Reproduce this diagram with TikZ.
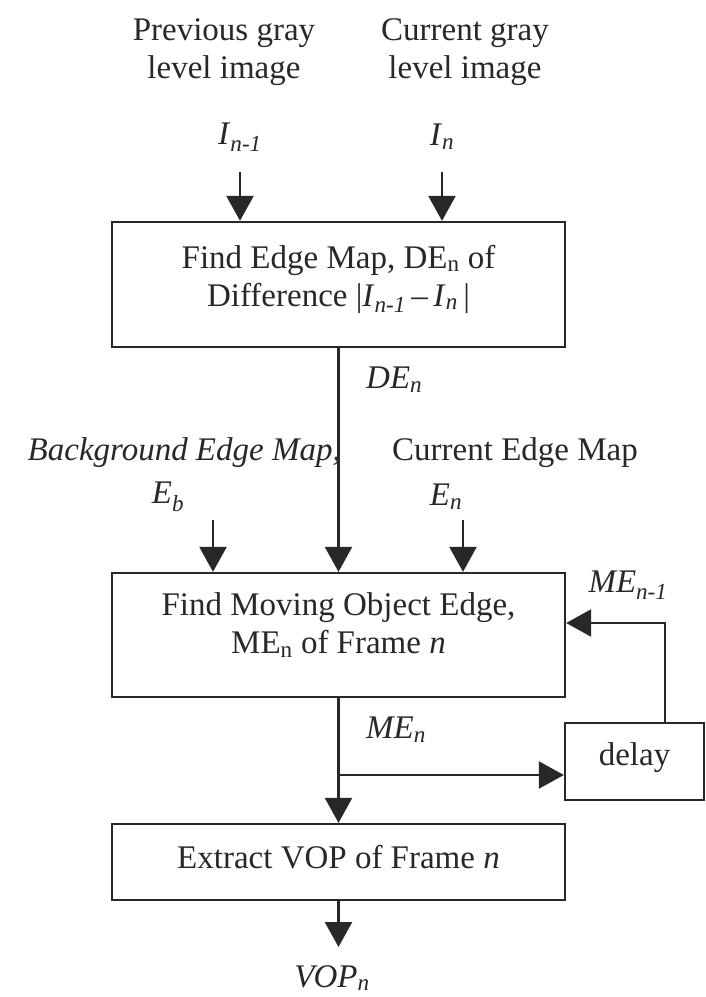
\documentclass[tikz,border=0pt]{standalone}
\usepackage{fontspec}
\setmainfont{Liberation Serif}
\usetikzlibrary{arrows.meta}
\definecolor{ink}{RGB}{40,40,40}
\begin{document}
\begin{tikzpicture}[x=1pt,y=-1pt,
  every node/.style={font=\fontsize{33}{38}\selectfont, inner sep=0pt, text=ink},
  blockbox/.style={draw=ink, line width=2.3pt},
  flow/.style={draw=ink, line width=2.3pt, -{Triangle[length=25pt,width=27pt]}},
  lbl/.style={align=center},
]
\fill[white] (0,0) rectangle (706,997);
\useasboundingbox (0,0) rectangle (706,997);

% processing blocks
\node[blockbox, minimum width=453pt, minimum height=125pt] (edge) at (338.5,284.5) {};
\node[blockbox, minimum width=453pt, minimum height=124pt] (moving) at (338.5,635) {};
\node[blockbox, minimum width=453pt, minimum height=76pt] (extract) at (338.5,862) {};
\node[blockbox, minimum width=139pt, minimum height=77pt] (delay) at (634.5,761.5) {};

% block captions
\node[lbl] (edgetxt) at (338.5,279)
  {Find Edge Map, DE\textsubscript{n} of\\Difference \textbar\textit{I}\textsubscript{\textit{n-1}}\,--\,\textit{I}\textsubscript{\textit{n}}\,\textbar};
\node[lbl] (movingtxt) at (338.5,625) {Find Moving Object Edge,\\ME\textsubscript{n} of Frame \textit{n}};
\node (extracttxt) at (338.5,857) {Extract VOP of Frame \textit{n}};
\node (delaytxt) at (634.5,758) {delay};

% signal labels
\node[lbl] (prevtxt) at (224,52) {Previous gray\\level image};
\node[lbl] (currtxt) at (465,52) {Current gray\\level image};
\node (inprev) at (240,137) {\textit{I}\textsubscript{\textit{n-1}}};
\node (incurr) at (442,137) {\textit{I}\textsubscript{\textit{n}}};
\node[anchor=west] (delbl) at (366,380) {\textit{DE}\textsubscript{\textit{n}}};
\node[anchor=east] (bgtxt) at (341,453) {\textit{Background Edge Map,}};
\node (eb) at (168,497) {\textit{E}\textsubscript{\textit{b}}};
\node (cetxt) at (515,453) {Current Edge Map};
\node (en) at (446,497) {\textit{E}\textsubscript{\textit{n}}};
\node (meprev) at (628,585) {\textit{ME}\textsubscript{\textit{n-1}}};
\node (melbl) at (396,730) {\textit{ME}\textsubscript{\textit{n}}};
\node (voplbl) at (332,978) {\textit{VOP}\textsubscript{\textit{n}}};

% arrow start points
\coordinate (srcprev) at (240,172);
\coordinate (srccurr) at (442,172);
\coordinate (srceb) at (213,520);
\coordinate (srcen) at (463,520);
\coordinate (split) at (338.5,775);
\coordinate (fbturn) at (665,623);
\coordinate (outend) at (338.5,947);

% connectors
\draw[flow] (srcprev) -- (srcprev |- edge.north);
\draw[flow] (srccurr) -- (srccurr |- edge.north);
\draw[flow] (edge.south) -- (moving.north);
\draw[flow] (srceb) -- (srceb |- moving.north);
\draw[flow] (srcen) -- (srcen |- moving.north);
\draw[flow] (moving.south) -- (extract.north);
\draw[flow] (split) -- (split -| delay.west);
\draw[flow] (fbturn |- delay.north) -- (fbturn) -- (fbturn -| moving.east);
\draw[flow] (extract.south) -- (outend);
\end{tikzpicture}
\end{document}
